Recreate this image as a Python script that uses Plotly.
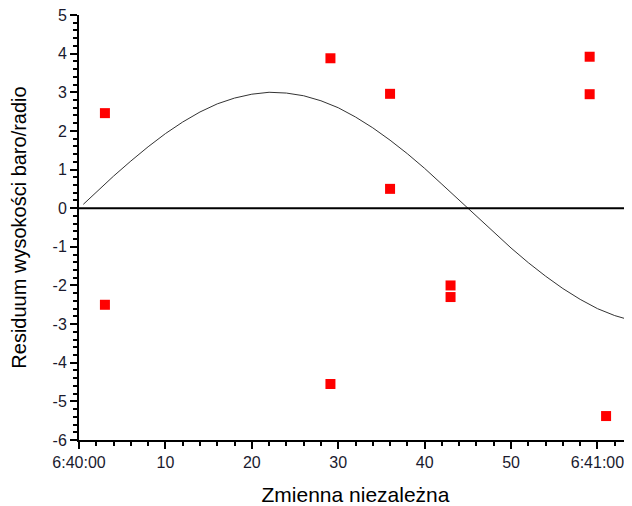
import plotly.graph_objects as go

# Residual points (seconds after 6:40:00, residuum)
pts_x = [3, 3, 29.1, 29.1, 36, 36, 43, 43, 59.1, 59.1, 61]
pts_y = [2.46, -2.5, 3.88, -4.55, 2.96, 0.5, -2.0, -2.3, 3.92, 2.95, -5.38]

# Fitted curve
curve_x = [0.5, 2, 4, 6, 8, 10, 12, 14, 16, 18, 20, 22, 24, 26, 28, 30, 32, 34,
           36, 38, 40, 42, 44, 46, 48, 50, 52, 54, 56, 58, 60, 62, 64]
curve_y = [0.10, 0.42, 0.83, 1.22, 1.59, 1.93, 2.23, 2.49, 2.70, 2.85, 2.95, 3.0,
           2.98, 2.91, 2.78, 2.60, 2.36, 2.08, 1.76, 1.41, 1.03, 0.62, 0.21,
           -0.21, -0.62, -1.03, -1.41, -1.76, -2.08, -2.36, -2.60, -2.78, -2.91]

x_tickvals = [0, 10, 20, 30, 40, 50, 60]
x_ticktext = ["6:40:00", "10", "20", "30", "40", "50", "6:41:00"]
y_tickvals = [-6, -5, -4, -3, -2, -1, 0, 1, 2, 3, 4, 5]
y_ticktext = ["-6", "-5", "-4", "-3", "-2", "-1", "0", "1", "2", "3", "4", "5"]

fig = go.Figure()
fig.add_trace(go.Scatter(x=curve_x, y=curve_y, mode="lines",
                         line=dict(color="#333333", width=1), showlegend=False))
fig.add_trace(go.Scatter(x=pts_x, y=pts_y, mode="markers",
                         marker=dict(symbol="square", size=10, color="#ff0000",
                                     line=dict(width=0)),
                         showlegend=False))

# page body has an 8px margin, so the figure is 8px smaller than the window
fig.update_layout(
    width=624, height=498,
    margin=dict(l=71, r=0, t=7, b=66),
    paper_bgcolor="white", plot_bgcolor="white",
    font=dict(family="Liberation Sans, Arial, sans-serif", size=16, color="#1a1a2e"),
    shapes=[dict(type="line", xref="paper", x0=0, x1=1, yref="y", y0=0, y1=0,
                 line=dict(color="black", width=2))],
)
fig.update_xaxes(range=[0, 64], tickvals=x_tickvals, ticktext=x_ticktext,
                 automargin=False, ticklabeloverflow="allow",
                 showline=True, linecolor="black", linewidth=2,
                 ticks="outside", ticklen=7, tickwidth=2, tickcolor="black",
                 minor=dict(ticks="outside", ticklen=4, tickwidth=1.5,
                            tickcolor="black", dtick=2, tick0=0),
                 showgrid=False, zeroline=False,
                 title=dict(text="Zmienna niezależna", font=dict(size=21, color="black"),
                            standoff=18))
fig.update_yaxes(range=[-6, 5], tickvals=y_tickvals, ticktext=y_ticktext,
                 automargin=False, ticklabeloverflow="allow",
                 showline=True, linecolor="black", linewidth=2,
                 ticks="outside", ticklen=7, tickwidth=2, tickcolor="black",
                 minor=dict(ticks="outside", ticklen=4, tickwidth=1.5,
                            tickcolor="black", dtick=0.2, tick0=0),
                 showgrid=False, zeroline=False,
                 title=dict(text="Residuum wysokości baro/radio",
                            font=dict(size=20, color="black"), standoff=21))

fig.write_html("out.html")
